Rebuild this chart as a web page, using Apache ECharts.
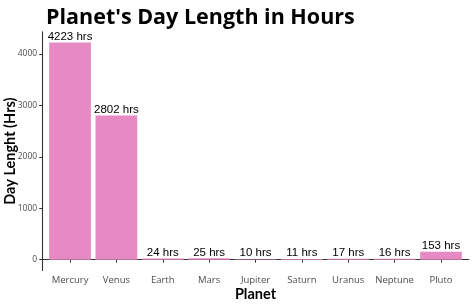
<!DOCTYPE html>
<html><head><meta charset="utf-8">
<script src="https://cdn.jsdelivr.net/npm/echarts@6/dist/echarts.min.js"></script>
<style>html,body{margin:0;padding:0;background:#fff}#c{width:474px;height:304px}</style>
</head><body><div id="c"></div>
<script>
const planets = ['Mercury','Venus','Earth','Mars','Jupiter','Saturn','Uranus','Neptune','Pluto'];
const dayHours = [4223, 2802, 24, 25, 10, 11, 17, 16, 153];
const yTicks = [0, 1000, 2000, 3000, 4000];
const xPositions = planets.map((p, i) => i + 1);

const gridLeft = 42.2, gridRight = 5.2, W = 474;
const unitPx = (W - gridLeft - gridRight) / 9.2;

const chart = echarts.init(document.getElementById('c'), null, {renderer: 'canvas'});
const fontUI = 'Open Sans';
const fontName = 'Lato';
chart.setOption({
  animation: false,
  backgroundColor: '#fff',
  title: {
    text: "Planet's Day Length in Hours",
    left: 41, top: 2,
    textStyle: {fontFamily: fontUI, fontWeight: 'bold', fontSize: 21.5, color: '#000'}
  },
  grid: {left: gridLeft, right: gridRight, top: 31.7, bottom: 33.5, containLabel: false, outerBoundsMode: 'none'},
  xAxis: {
    type: 'value', min: 0.4, max: 9.6,
    name: 'Planet', nameLocation: 'middle', nameGap: 16, nameMoveOverlap: false,
    nameTextStyle: {fontFamily: fontName, fontWeight: 'bold', fontSize: 14.5, color: '#000'},
    axisLine: {show: true, lineStyle: {color: '#333', width: 1.1}},
    axisTick: {show: true, length: 3, customValues: xPositions, lineStyle: {color: '#333'}},
    axisLabel: {customValues: xPositions, margin: 5, fontFamily: fontUI, fontSize: 9.5, color: '#4d4d4d',
      formatter: v => planets[Math.round(v) - 1] || ''},
    splitLine: {show: false}
  },
  yAxis: {
    type: 'value', min: -211.15, max: 4434.15,
    name: 'Day Lenght (Hrs)', nameLocation: 'middle', nameGap: 24, nameMoveOverlap: false,
    nameTextStyle: {fontFamily: fontName, fontWeight: 'bold', fontSize: 14.5, color: '#000'},
    axisLine: {show: true, lineStyle: {color: '#333', width: 1.1}},
    axisTick: {show: true, length: 3, customValues: yTicks, lineStyle: {color: '#333'}},
    axisLabel: {customValues: yTicks, margin: 5, fontFamily: fontUI, fontSize: 8.5, color: '#4d4d4d',
      formatter: v => String(v)},
    splitLine: {show: false}
  },
  series: [{
    type: 'bar',
    data: xPositions.map((x, i) => [x, dayHours[i]]),
    barWidth: unitPx * 0.9,
    itemStyle: {color: '#E78AC3'},
    label: {show: true, position: 'top', distance: 0,
      formatter: p => p.value[1] + ' hrs',
      fontFamily: 'Liberation Sans', fontSize: 11.5, color: '#000'}
  }]
});
</script></body></html>
